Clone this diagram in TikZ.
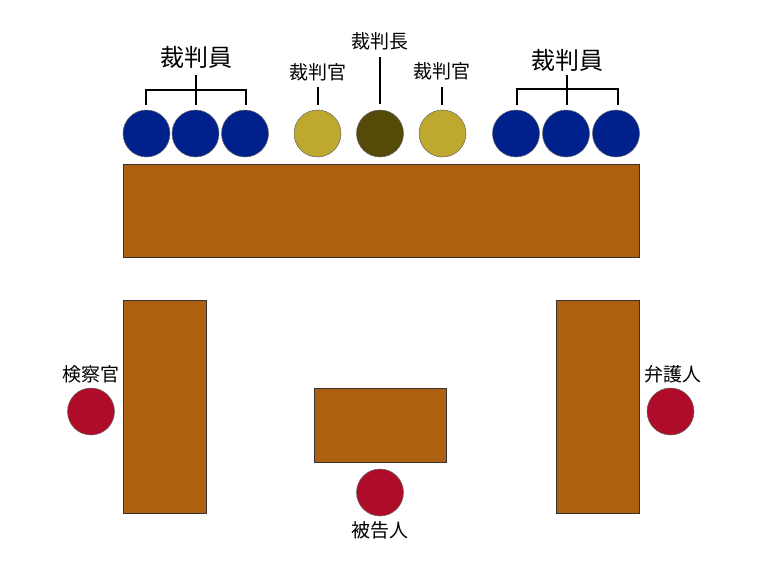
\documentclass[tikz,border=0pt]{standalone}
\usepackage{fontspec}
\newfontfamily\jp{Noto Sans CJK JP}
\definecolor{wood}{RGB}{172,96,16}
\definecolor{jblue}{RGB}{0,32,140}
\definecolor{jyel}{RGB}{190,168,48}
\definecolor{jdark}{RGB}{86,74,8}
\definecolor{jred}{RGB}{174,12,40}
\tikzset{
  table/.style={draw=black!80, line width=0.9pt, fill=wood},
  person/.style={circle, draw=black!60, line width=0.5pt, minimum size=47pt, inner sep=0pt},
  lab/.style={font=\jp\fontsize{19}{19}\selectfont, inner sep=0pt},
  biglab/.style={font=\jp\fontsize{24}{24}\selectfont, inner sep=0pt},
  brk/.style={line width=2pt}
}
\begin{document}
\begin{tikzpicture}[x=1pt,y=-1pt]
\useasboundingbox (0,0) rectangle (760,562);
% tables
\draw[table] (123,164) rectangle (639,257);
\draw[table] (123,300) rectangle (206,513);
\draw[table] (556,300) rectangle (639,513);
\draw[table] (314,388) rectangle (446,462);
% judges row
\node[person, fill=jblue] (b1) at (146.5,133.5) {};
\node[person, fill=jblue] (b2) at (195.5,133.5) {};
\node[person, fill=jblue] (b3) at (245,133.5) {};
\node[person, fill=jyel] (y1) at (317.5,133.5) {};
\node[person, fill=jdark] (d1) at (380,133.5) {};
\node[person, fill=jyel] (y2) at (442.5,133.5) {};
\node[person, fill=jblue] (b4) at (516,133.5) {};
\node[person, fill=jblue] (b5) at (566,133.5) {};
\node[person, fill=jblue] (b6) at (616,133.5) {};
% labels
\node[biglab] (l1) at (196,57) {裁判員};
\node[biglab] (l2) at (567,60) {裁判員};
\node[lab] (ly1) at (318,72) {裁判官};
\node[lab] (ly2) at (442,71) {裁判官};
\node[lab] (ld) at (380,41) {裁判長};
% brackets
\coordinate (bl1) at (146,105);
\coordinate (bl3) at (246,105);
\draw[brk] (bl1) -- (146,90) -- (246,90) -- (bl3);
\draw[brk] (196,75) -- (196,105);
\draw[brk] (517,105) -- (517,89) -- (618,89) -- (618,105);
\draw[brk] (567,75) -- (567,105);
\draw[brk] (318,87) -- (318,105);
\draw[brk] (442,87) -- (442,105);
\draw[brk] (380,57) -- (380,104);
% others
\node[person, fill=jred] (pr) at (91,411.5) {};
\node[person, fill=jred] (df) at (670.5,411.5) {};
\node[person, fill=jred] (ac) at (380,492.5) {};
\node[lab] (lpr) at (91,374) {検察官};
\node[lab] (ldf) at (673,374) {弁護人};
\node[lab] (lac) at (380,530) {被告人};
\end{tikzpicture}
\end{document}
